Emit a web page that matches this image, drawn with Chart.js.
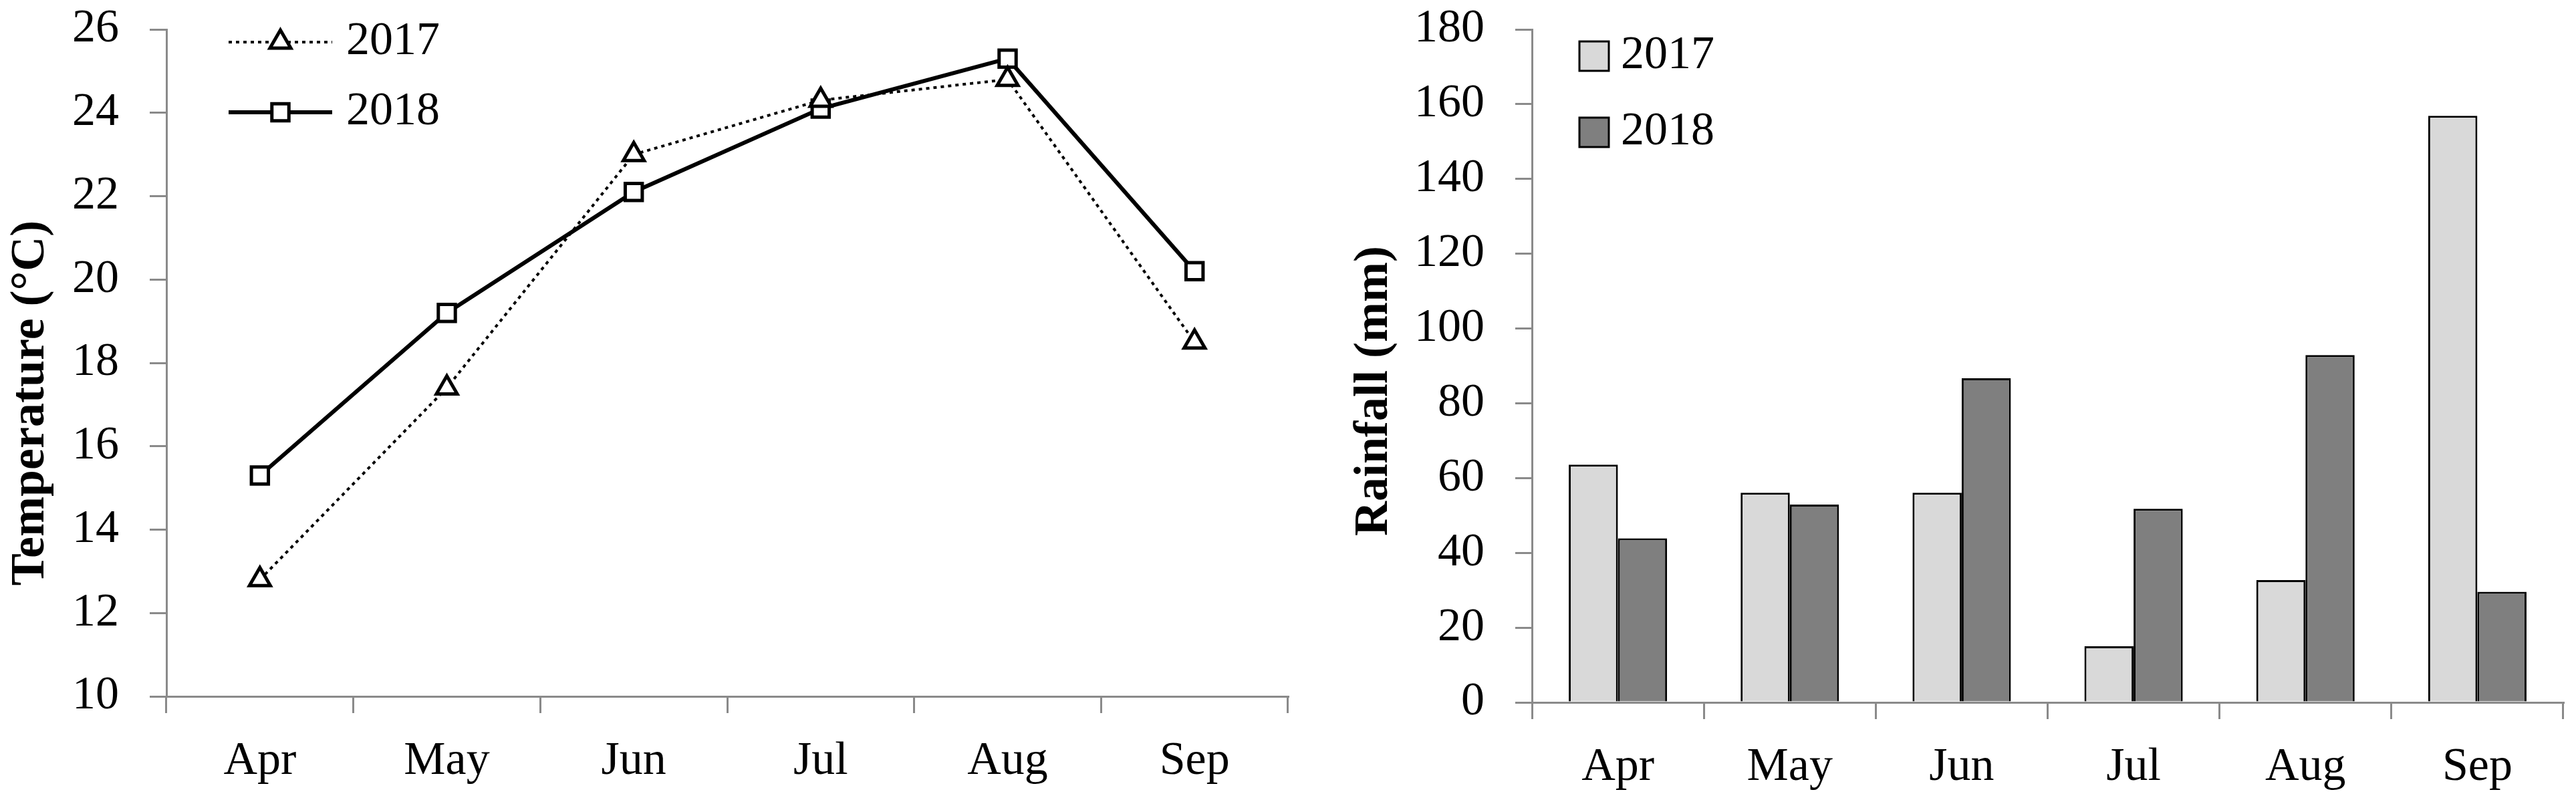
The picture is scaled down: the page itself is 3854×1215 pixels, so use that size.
<!DOCTYPE html>
<html>
<head>
<meta charset="utf-8">
<script src="https://cdn.jsdelivr.net/npm/chart.js@4.4.1/dist/chart.umd.min.js"></script>
<style>
  html, body { margin: 0; padding: 0; background: #fff; }
  #wrap { position: relative; width: 3854px; height: 1215px; }
  #tempChart { position: absolute; left: 0; top: 0; }
  #rainChart { position: absolute; left: 1950px; top: 0; }
</style>
</head>
<body>
<div id="wrap">
  <canvas id="tempChart" width="1950" height="1215"></canvas>
  <canvas id="rainChart" width="1904" height="1215"></canvas>
</div>
<script>
// data
const months = ["Apr", "May", "Jun", "Jul", "Aug", "Sep"];
const years = ["2017", "2018"];
const temp2017 = [12.8, 17.4, 23.0, 24.3, 24.8, 18.5];
const temp2018 = [15.3, 19.2, 22.1, 24.1, 25.3, 20.2];
const rain2017 = [63.6, 56.1, 56.1, 15.0, 32.7, 156.9];
const rain2018 = [43.9, 52.9, 86.7, 51.8, 92.9, 29.6];
const tempTicks = [10, 12, 14, 16, 18, 20, 22, 24, 26];
const rainTicks = [0, 20, 40, 60, 80, 100, 120, 140, 160, 180];

const FONT = "'Liberation Serif', 'Times New Roman', serif";
const AXIS = "#8a8a8a";

// rotated axis title, placed freely (the original is centred on the page, not the plot)
const sideTitle = {
  id: "sideTitle",
  afterDraw(chart, args, opts) {
    const ctx = chart.ctx;
    ctx.save();
    ctx.translate(opts.x, opts.y);
    ctx.rotate(-Math.PI / 2);
    ctx.font = "bold 72px " + FONT;
    ctx.fillStyle = "#000";
    ctx.textAlign = "center";
    ctx.textBaseline = "middle";
    ctx.fillText(opts.text, 0, 0);
    ctx.restore();
  }
};

function drawMarker(ctx, style, x, y, r, bw) {
  ctx.save();
  ctx.fillStyle = "#fff";
  ctx.strokeStyle = "#000";
  ctx.lineWidth = bw;
  ctx.beginPath();
  if (style === "triangle") {
    const a = 2 * Math.PI / 3;
    ctx.moveTo(x, y - r);
    ctx.lineTo(x + Math.sin(a) * r, y - Math.cos(a) * r);
    ctx.lineTo(x - Math.sin(a) * r, y - Math.cos(a) * r);
    ctx.closePath();
  } else {
    const s = Math.SQRT1_2 * r;
    ctx.rect(x - s, y - s, 2 * s, 2 * s);
  }
  ctx.fill();
  ctx.stroke();
  ctx.restore();
}

// legend inside the plot, stacked
const innerLegend = {
  id: "innerLegend",
  afterDraw(chart, args, opts) {
    const { ctx, chartArea } = chart;
    chart.data.datasets.forEach((ds, i) => {
      const y = chartArea.top + opts.rowStart + i * opts.rowGap;
      const x0 = chartArea.left + opts.offsetX;
      ctx.save();
      if (opts.kind === "line") {
        ctx.strokeStyle = ds.borderColor;
        ctx.lineWidth = ds.borderWidth;
        ctx.setLineDash(ds.borderDash || []);
        ctx.beginPath();
        ctx.moveTo(x0, y);
        ctx.lineTo(x0 + opts.symbolWidth, y);
        ctx.stroke();
        ctx.setLineDash([]);
        drawMarker(ctx, ds.pointStyle, x0 + opts.symbolWidth / 2, y, ds.pointRadius, ds.pointBorderWidth);
      } else {
        const s = opts.symbolWidth;
        ctx.fillStyle = ds.backgroundColor;
        ctx.fillRect(x0, y - s / 2, s, s);
        ctx.strokeStyle = ds.borderColor;
        ctx.lineWidth = ds.borderWidth;
        ctx.strokeRect(x0, y - s / 2, s, s);
      }
      ctx.fillStyle = "#000";
      ctx.font = "70px " + FONT;
      ctx.textAlign = "left";
      ctx.textBaseline = "middle";
      ctx.fillText(ds.label, chartArea.left + opts.textOffset, y);
      ctx.restore();
    });
  }
};

function xScale(height, isLine) {
  return {
    offset: true,
    grid: {
      offset: true, drawOnChartArea: false, drawTicks: true,
      tickLength: 25, tickWidth: 3, tickColor: AXIS, color: AXIS, lineWidth: 3
    },
    border: { display: true, color: AXIS, width: 3 },
    ticks: { font: { family: FONT, size: 70 }, color: "#000", padding: 31, maxRotation: 0 },
    afterFit(s) { s.height = height; s.paddingLeft = 0; s.paddingRight = 0; }
  };
}

function yScale(width, ticks) {
  return {
    min: ticks[0],
    max: ticks[ticks.length - 1],
    afterBuildTicks(s) { s.ticks = ticks.map(v => ({ value: v })); },
    grid: {
      drawOnChartArea: false, drawTicks: true,
      tickLength: 25, tickWidth: 3, tickColor: AXIS, color: AXIS, lineWidth: 3
    },
    border: { display: true, color: AXIS, width: 3 },
    ticks: { font: { family: FONT, size: 70 }, color: "#000", padding: 46 },
    afterFit(s) { s.width = width; s.paddingTop = 0; s.paddingBottom = 0; }
  };
}

new Chart(document.getElementById("tempChart"), {
  type: "line",
  data: {
    labels: months,
    datasets: [
      {
        label: years[0], data: temp2017,
        borderColor: "#000", borderWidth: 4, borderDash: [5, 6],
        pointStyle: "triangle", pointRadius: 18, pointBorderWidth: 5,
        pointBackgroundColor: "#fff", pointBorderColor: "#000", tension: 0
      },
      {
        label: years[1], data: temp2018,
        borderColor: "#000", borderWidth: 6,
        pointStyle: "rect", pointRadius: 18, pointBorderWidth: 5,
        pointBackgroundColor: "#fff", pointBorderColor: "#000", tension: 0
      }
    ]
  },
  options: {
    responsive: false,
    devicePixelRatio: 1,
    animation: false,
    layout: { padding: { top: 44, right: 14, bottom: 0, left: 0 } },
    scales: { x: xScale(173, true), y: yScale(249, tempTicks) },
    plugins: {
      legend: { display: false },
      tooltip: { enabled: false },
      sideTitle: { text: "Temperature (°C)", x: 46, y: 603 },
      innerLegend: { kind: "line", offsetX: 93, symbolWidth: 155, textOffset: 269, rowStart: 19, rowGap: 105 }
    }
  },
  plugins: [sideTitle, innerLegend]
});

new Chart(document.getElementById("rainChart"), {
  type: "bar",
  data: {
    labels: months,
    datasets: [
      { label: years[0], data: rain2017, backgroundColor: "#d9d9d9", borderColor: "#000", borderWidth: 3 },
      { label: years[1], data: rain2018, backgroundColor: "#7f7f7f", borderColor: "#000", borderWidth: 3 }
    ]
  },
  options: {
    responsive: false,
    devicePixelRatio: 1,
    animation: false,
    datasets: { bar: { categoryPercentage: 0.572, barPercentage: 1.0 } },
    layout: { padding: { top: 44, right: 19, bottom: 0, left: 0 } },
    scales: { x: xScale(164, false), y: yScale(342, rainTicks) },
    plugins: {
      legend: { display: false },
      tooltip: { enabled: false },
      sideTitle: { text: "Rainfall (mm)", x: 106, y: 585 },
      innerLegend: { kind: "box", offsetX: 71, symbolWidth: 44, textOffset: 133, rowStart: 40, rowGap: 114 }
    }
  },
  plugins: [sideTitle, innerLegend]
});
</script>
</body>
</html>
